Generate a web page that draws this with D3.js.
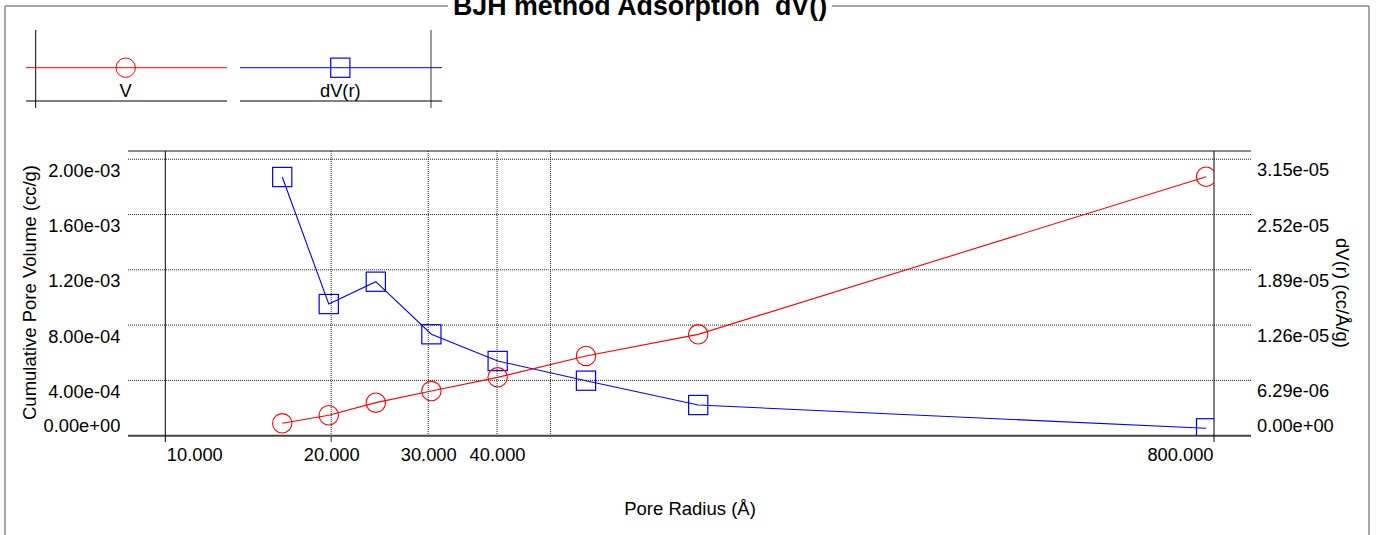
<!DOCTYPE html>
<html><head><meta charset="utf-8">
<script src="https://cdn.jsdelivr.net/npm/d3@7"></script>
<style>
html,body{margin:0;padding:0;background:#fff;}
svg{display:block;font-family:"Liberation Sans",Arial,sans-serif;}
</style></head>
<body><svg id="c" width="1378" height="535"></svg>
<script>
// ---- data ----
const radius = [16.3, 19.8, 24.1, 30.4, 40.1, 58.0, 92.7, 774];
const volumeV = [8.97e-5, 1.48e-4, 2.39e-4, 3.23e-4, 4.22e-4, 5.77e-4, 7.33e-4, 1.873e-3];
const dVr = [2.943e-5, 1.498e-5, 1.752e-5, 1.154e-5, 8.50e-6, 6.26e-6, 3.49e-6, 8.4e-7];
const xTickValues = [10, 20, 30, 40, 800];
const xTickLabels = ["10.000", "20.000", "30.000", "40.000", "800.000"];
const xGridValues = [20, 30, 40, 50];
const yTickValues = [0, 4e-4, 8e-4, 1.2e-3, 1.6e-3, 2e-3];
const yTickLabels = ["0.00e+00", "4.00e-04", "8.00e-04", "1.20e-03", "1.60e-03", "2.00e-03"];
const y2Max = 3.1457e-5;
const y2TickValues = [0, 1, 2, 3, 4, 5].map(i => i * y2Max / 5);
const y2TickLabels = ["0.00e+00", "6.29e-06", "1.26e-05", "1.89e-05", "2.52e-05", "3.15e-05"];
const seriesNames = ["V", "dV(r)"];
const title = "BJH method Adsorption  dV()";
const xTitle = "Pore Radius (Å)";
const yTitle = "Cumulative Pore Volume (cc/g)";
const y2Title = "dV(r) (cc/Å/g)";

// ---- layout ----
const L = 165.3, R = 1214, T = 151, B = 435.7, TOPG = 159.2;
const FS = 18.3;
const svg = d3.select("#c");
const x = d3.scaleLog().domain([10, 800]).range([L, R]);
const y = d3.scaleLinear().domain([0, 2e-3]).range([B, TOPG]);
const y2 = d3.scaleLinear().domain([0, y2Max]).range([B, TOPG]);

// outer frame
const frame = svg.append("g").attr("stroke", "#8a8a8a").attr("stroke-width", 1.5).attr("fill", "none");
frame.append("line").attr("x1", 5).attr("x2", 5).attr("y1", 6).attr("y2", 535);
frame.append("line").attr("x1", 1369).attr("x2", 1369).attr("y1", 6).attr("y2", 535);
frame.append("line").attr("x1", 5).attr("x2", 448).attr("y1", 6).attr("y2", 6);
frame.append("line").attr("x1", 832).attr("x2", 1369).attr("y1", 6).attr("y2", 6);

svg.append("text").attr("x", 640).attr("y", 15).attr("text-anchor", "middle")
  .style("white-space", "pre").attr("xml:space", "preserve")
  .attr("font-weight", "bold").attr("font-size", 26.8).text(title);

// legend
const lg = svg.append("g");
lg.append("line").attr("x1", 35.7).attr("x2", 35.7).attr("y1", 30).attr("y2", 108).attr("stroke", "#000");
lg.append("line").attr("x1", 431).attr("x2", 431).attr("y1", 30).attr("y2", 108).attr("stroke", "#666").attr("stroke-width", 1.3);
[[26, 227], [240, 442]].forEach(([a, b]) => {
  lg.append("line").attr("x1", a).attr("x2", b).attr("y1", 101).attr("y2", 101).attr("stroke", "#000");
});
lg.append("line").attr("x1", 26).attr("x2", 227).attr("y1", 67.7).attr("y2", 67.7).attr("stroke", "#f00");
lg.append("line").attr("x1", 240).attr("x2", 442).attr("y1", 67.7).attr("y2", 67.7).attr("stroke", "#00f");
lg.append("circle").attr("cx", 125.7).attr("cy", 67.7).attr("r", 9.7).attr("fill", "none").attr("stroke", "#f00");
lg.append("rect").attr("x", 340.3 - 9.6).attr("y", 67.7 - 9.6).attr("width", 19.2).attr("height", 19.2).attr("fill", "none").attr("stroke", "#00f").attr("stroke-width", 1.2);
lg.append("text").attr("x", 125.7).attr("y", 97.3).attr("text-anchor", "middle").attr("font-size", FS).text(seriesNames[0]);
lg.append("text").attr("x", 340.3).attr("y", 97.3).attr("text-anchor", "middle").attr("font-size", FS).text(seriesNames[1]);

// horizontal grid
const grid = svg.append("g");
grid.selectAll("line.h").data(yTickValues.slice(1)).join("line")
  .attr("x1", 128).attr("x2", 1251).attr("y1", d => y(d)).attr("y2", d => y(d))
  .attr("stroke", "#222").attr("stroke-dasharray", "1 1");
grid.append("line").attr("x1", 128).attr("x2", 1251).attr("y1", T).attr("y2", T)
  .attr("stroke", "#666").attr("stroke-width", 1.5);
grid.selectAll("line.v").data(xGridValues).join("line")
  .attr("x1", d => x(d)).attr("x2", d => x(d)).attr("y1", T).attr("y2", B)
  .attr("stroke", "#222").attr("stroke-dasharray", "1 1");
// small tick under axis at 20
grid.append("line").attr("x1", x(20)).attr("x2", x(20)).attr("y1", B).attr("y2", 442).attr("stroke", "#333");

// axes
const ax = svg.append("g").attr("transform", `translate(${L},0)`)
  .call(d3.axisLeft(y).tickValues(yTickValues).tickFormat((d, i) => yTickLabels[i]).tickSize(0).tickPadding(45));
ax.select(".domain").remove();
ax.selectAll("text").attr("dy", null).attr("y", (d, i) => i === 0 ? -4 : 17)
  .attr("font-size", FS).attr("font-family", "Liberation Sans, Arial, sans-serif").attr("fill", "#000");

const ax2 = svg.append("g").attr("transform", `translate(${R},0)`)
  .call(d3.axisRight(y2).tickValues(y2TickValues).tickFormat((d, i) => y2TickLabels[i]).tickSize(0).tickPadding(43));
ax2.select(".domain").remove();
ax2.selectAll("text").attr("dy", null).attr("y", (d, i) => i === 0 ? -4 : 16.5)
  .attr("font-size", FS).attr("font-family", "Liberation Sans, Arial, sans-serif").attr("fill", "#000");

const axb = svg.append("g").attr("transform", `translate(0,${B})`)
  .call(d3.axisBottom(x).tickValues(xTickValues).tickFormat((d, i) => xTickLabels[i]).tickSize(0).tickPadding(0));
axb.select(".domain").remove();
axb.selectAll("text").attr("dy", null).attr("y", 25.3)
  .attr("font-size", FS).attr("font-family", "Liberation Sans, Arial, sans-serif").attr("fill", "#000")
  .attr("text-anchor", (d, i) => i === 0 ? "start" : (i === xTickValues.length - 1 ? "end" : "middle"))
  .attr("x", (d, i) => i === 0 ? 1 : (i === xTickValues.length - 1 ? -1 : 0));

// axis lines
svg.append("line").attr("x1", 128).attr("x2", 1251).attr("y1", B).attr("y2", B).attr("stroke", "#444").attr("stroke-width", 2);
svg.append("line").attr("x1", L).attr("x2", L).attr("y1", T).attr("y2", 442).attr("stroke", "#000");
svg.append("line").attr("x1", R).attr("x2", R).attr("y1", T).attr("y2", 442).attr("stroke", "#000");

// titles
svg.append("text").attr("x", 690).attr("y", 515.3).attr("text-anchor", "middle").attr("font-size", 18.5).text(xTitle);
svg.append("text").attr("transform", "translate(36,292.5) rotate(-90)").attr("text-anchor", "middle").attr("font-size", 18.5).text(yTitle);
svg.append("text").attr("transform", "translate(1335.5,293) rotate(90)").attr("text-anchor", "middle").attr("font-size", 18.5).text(y2Title);

// plot content
svg.append("clipPath").attr("id", "pc").append("rect").attr("x", L).attr("y", T).attr("width", R - L).attr("height", B - T);
const plot = svg.append("g").attr("clip-path", "url(#pc)");
const idx = d3.range(radius.length);

plot.append("path").datum(idx).attr("fill", "none").attr("stroke", "#00f").attr("stroke-width", 1.1)
  .attr("d", d3.line().x(i => x(radius[i])).y(i => y2(dVr[i])));
plot.selectAll("rect.sq").data(idx).join("rect")
  .attr("x", i => x(radius[i]) - 9.6).attr("y", i => y2(dVr[i]) - 9.6)
  .attr("width", 19.2).attr("height", 19.2).attr("fill", "none").attr("stroke", "#00f").attr("stroke-width", 1.2);

plot.append("path").datum(idx).attr("fill", "none").attr("stroke", "#f00").attr("stroke-width", 1.1)
  .attr("d", d3.line().x(i => x(radius[i])).y(i => y(volumeV[i])));
plot.selectAll("circle.ci").data(idx).join("circle")
  .attr("cx", i => x(radius[i])).attr("cy", i => y(volumeV[i])).attr("r", 9.7)
  .attr("fill", "none").attr("stroke", "#f00").attr("stroke-width", 1.1);
</script></body></html>
